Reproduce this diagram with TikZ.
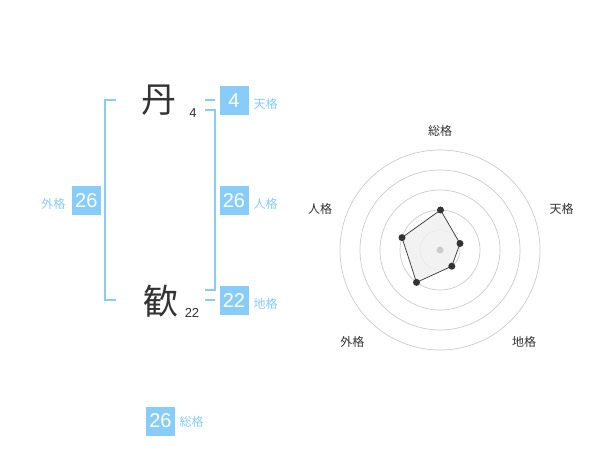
\documentclass[tikz,border=0pt]{standalone}
\usepackage{fontspec}
\setmainfont{Liberation Sans}
\newfontfamily\jpfont{Noto Sans CJK JP}
\definecolor{lb}{HTML}{88CCFA}
\definecolor{txt}{HTML}{333333}
\definecolor{ring}{HTML}{CCCCCC}
\definecolor{area}{HTML}{F0F0F0}
\begin{document}
\begin{tikzpicture}[x=1pt,y=-1pt,
  numbox/.style={fill=lb,text=white,minimum width=29pt,minimum height=29pt,inner sep=0pt,font=\fontsize{20}{20}\selectfont},
  lbl/.style={text=lb,inner sep=0pt,font=\jpfont\fontsize{12}{12}\selectfont},
  rlbl/.style={text=txt,inner sep=0pt,font=\jpfont\fontsize{12}{12}\selectfont},
  kanji/.style={text=txt,inner sep=0pt,font=\jpfont\fontsize{35}{35}\selectfont},
  subnum/.style={text=txt,inner sep=0pt,font=\fontsize{13}{13}\selectfont},
  brk/.style={draw=lb,line width=1.8pt},
  ringc/.style={draw=ring,line width=0.7pt},
  dotc/.style={circle,fill=txt,inner sep=0pt,minimum size=7pt}]
\useasboundingbox[fill=white] (0,0) rectangle (600,470);

% characters
\node[kanji] (k1) at (159,100) {丹};
\node[subnum] (s1) at (193,113) {4};
\node[kanji] (k2) at (161,301) {歓};
\node[subnum] (s2) at (192,313) {22};

% brackets
\coordinate (la) at (116,100);
\coordinate (lz) at (116,300);
\draw[brk] (la) -| (105,300) -- (lz);
\coordinate (ra) at (205,110);
\coordinate (rz) at (205,290);
\draw[brk] (ra) -| (215,290) -- (rz);
\coordinate (ta) at (205,100);
\coordinate (tz) at (215,100);
\draw[brk] (ta) -- (tz);
\coordinate (ga) at (205,300);
\coordinate (gz) at (215,300);
\draw[brk] (ga) -- (gz);

% boxes
\node[numbox] (bgai) at (86.3,200.3) {26};
\node[lbl] (lgai) at (53.3,204) {外格};
\node[numbox] (bten) at (234,100.3) {4};
\node[lbl] (lten) at (265.7,104) {天格};
\node[numbox] (bjin) at (234,200.3) {26};
\node[lbl] (ljin) at (265.7,204) {人格};
\node[numbox] (bchi) at (234,300.3) {22};
\node[lbl] (lchi) at (265.7,304) {地格};
\node[numbox] (bso) at (160.5,421) {26};
\node[lbl] (lso) at (191.7,422) {総格};

% radar
\coordinate (c) at (440,250);
\foreach \r in {20,40,60,80,100} \draw[ringc] (c) circle[radius=\r];
\coordinate (p1) at (440.5,210);
\coordinate (p2) at (460,243.5);
\coordinate (p3) at (451.8,266.2);
\coordinate (p4) at (416.5,282.4);
\coordinate (p5) at (402,237.6);
\draw[fill=area,fill opacity=0.85,draw=txt,line width=0.7pt] (p1) -- (p2) -- (p3) -- (p4) -- (p5) -- cycle;
\node[circle,fill=ring,inner sep=0pt,minimum size=7pt] (cd) at (c) {};
\foreach \p in {p1,p2,p3,p4,p5} \node[dotc] (d\p) at (\p) {};
\node[rlbl] (rso) at (440,130.7) {総格};
\node[rlbl] (rten) at (561.7,209) {天格};
\node[rlbl] (rjin) at (320,209) {人格};
\node[rlbl] (rgai) at (352.3,342.3) {外格};
\node[rlbl] (rchi) at (524,342.3) {地格};
\end{tikzpicture}
\end{document}
